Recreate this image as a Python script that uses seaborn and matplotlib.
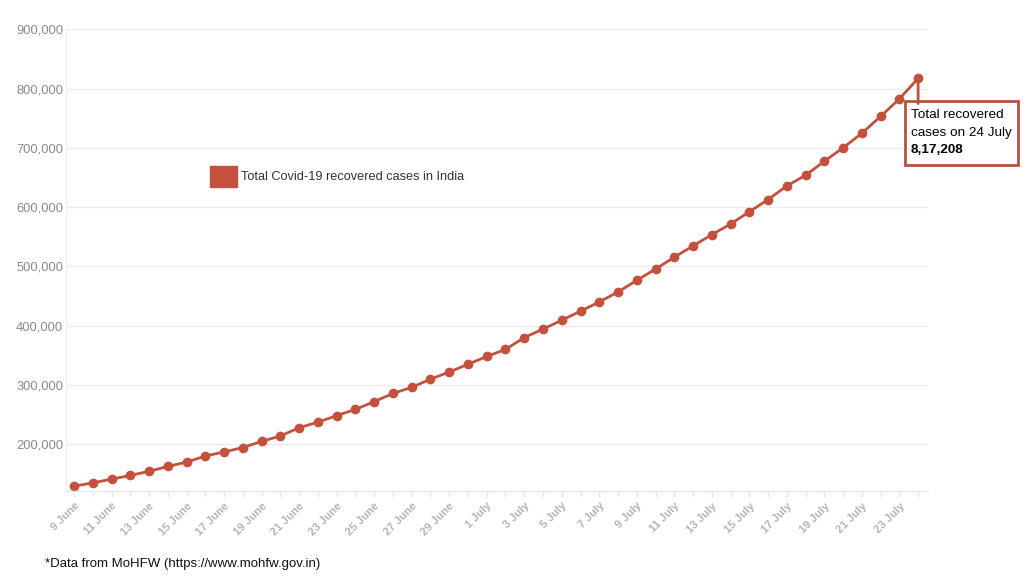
import matplotlib
matplotlib.use("Agg")
import matplotlib.pyplot as plt
import matplotlib.ticker as mticker
from matplotlib.patches import Patch
import seaborn as sns
import pandas as pd

dates = (
    [f"{d} June" for d in range(9, 31)] +
    [f"{d} July" for d in range(1, 25)]
)
recovered = [
    129215, 134670, 141029, 147195, 154330, 162379, 169798, 180013, 186935, 194325,
    204711, 213831, 227756, 237196, 248190, 258685, 271697, 285637, 295881, 309713,
    321723, 334822, 347979, 359860, 379892, 394227, 409083, 424433, 439948, 456831,
    476378, 495513, 515386, 534621, 553471, 571460, 592032, 612815, 635757, 653751,
    677423, 700087, 724578, 753050, 782607, 817208,
]
series_name = "Total Covid-19 recovered cases in India"
y_ticks = [200000, 300000, 400000, 500000, 600000, 700000, 800000, 900000]


def indian_format(n):
    s = str(int(n))
    if len(s) <= 3:
        return s
    head, tail = s[:-3], s[-3:]
    groups = []
    while len(head) > 2:
        groups.insert(0, head[-2:])
        head = head[:-2]
    if head:
        groups.insert(0, head)
    return ",".join(groups) + "," + tail


df = pd.DataFrame({"idx": range(len(dates)), "date": dates, "value": recovered})

sns.set_theme(style="white")
plt.rcParams["font.family"] = ["Liberation Sans", "DejaVu Sans"]

color = "#c4513e"
fig = plt.figure(figsize=(10.24, 5.76), dpi=100)
ax = fig.add_axes([0.0645, 0.1476, 0.8418, 0.8015])

sns.lineplot(data=df, x="idx", y="value", ax=ax, color=color, linewidth=2,
             marker="o", markersize=7, markeredgewidth=0, legend=False)

ax.set_xlim(-0.43, 45.53)
ax.set_ylim(121000, 900000)
ax.set_yticks(y_ticks)
ax.yaxis.set_major_formatter(mticker.FuncFormatter(lambda v, p: f"{int(v):,}"))
ax.grid(axis="y", color="#ececec", linewidth=1)
ax.set_xlabel("")
ax.set_ylabel("")

ax.set_xticks(range(len(dates)))
ax.set_xticklabels([d if i % 2 == 0 else "" for i, d in enumerate(dates)],
                   rotation=45, ha="right", rotation_mode="anchor",
                   fontsize=8, fontweight="bold", color="#b4b4b4")
ax.tick_params(axis="x", length=4, color="#e6e6e6", width=1, pad=3, bottom=True)
ax.tick_params(axis="y", length=0, labelsize=9.3, labelcolor="#8a8a8a", pad=2)

for s in ["top", "right"]:
    ax.spines[s].set_visible(False)
ax.spines["left"].set_color("#f0f0f0")
ax.spines["bottom"].set_color("#e6e6e6")
ax.spines["left"].set_linewidth(1)
ax.spines["bottom"].set_linewidth(1)

# legend
handle = Patch(facecolor=color, edgecolor=color, label=series_name)
fig.legend(handles=[handle], loc="center left", bbox_to_anchor=(0.194, 0.694),
           frameon=False, fontsize=9.2, handlelength=2.1, handleheight=2.1,
           handletextpad=0.3, labelcolor="#333333")

# annotation for the last point
last_i = len(recovered) - 1
ax.annotate("", xy=(last_i, recovered[last_i]), xytext=(last_i, 770000),
            arrowprops=dict(arrowstyle="-", color=color, lw=2))
fig.patches.append(plt.Rectangle((905 / 1024, 1 - 165 / 576), 113 / 1024, 64 / 576,
                                 transform=fig.transFigure, fill=False,
                                 edgecolor="#b5533f", linewidth=2))
fig.text(911 / 1024, 1 - 115 / 576, "Total recovered", fontsize=9.7, color="black", va="center")
fig.text(911 / 1024, 1 - 133 / 576, "cases on 24 July", fontsize=9.7, color="black", va="center")
fig.text(911 / 1024, 1 - 150 / 576, indian_format(recovered[last_i]),
         fontsize=9.7, fontweight="bold", color="black", va="center")

fig.text(45 / 1024, 1 - 564 / 576, "*Data from MoHFW (https://www.mohfw.gov.in)",
         fontsize=9.5, color="#111111", va="center")

fig.savefig("out.png", dpi=100, facecolor="white")
